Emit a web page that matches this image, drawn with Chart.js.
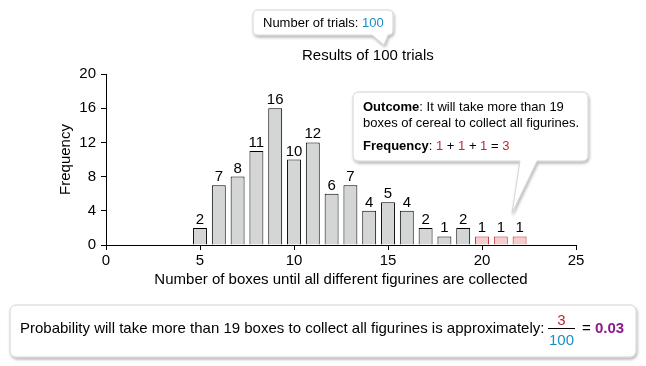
<!DOCTYPE html>
<html>
<head>
<meta charset="utf-8">
<script src="https://cdn.jsdelivr.net/npm/chart.js@4"></script>
<style>
  body { margin: 0; background: #fff; font-family: "Liberation Sans", Arial, sans-serif; }
  #wrap { position: relative; width: 646px; height: 366px; overflow: hidden; }
  #mychart { position: absolute; left: 0; top: 0; }
  svg { position: absolute; left: 0; top: 0; }
  .txt { position: absolute; color: #000; white-space: nowrap; }
  .red { color: #c0282d; }
  .blue { color: #1b8cc4; }
</style>
</head>
<body>
<div id="wrap">
  <canvas id="mychart" width="646" height="366"></canvas>
  <svg width="646" height="366">
    <defs>
      <filter id="shade" x="-10%" y="-10%" width="120%" height="140%">
        <feDropShadow dx="1" dy="2" stdDeviation="1.5" flood-color="#000" flood-opacity="0.3"/>
      </filter>
    </defs>
    <!-- top callout -->
    <path d="M258,10 H388 Q393,10 393,15 V30 Q393,35 388,35 H388 L384,45 L372,35 H258 Q253,35 253,30 V15 Q253,10 258,10 Z"
          fill="#fff" stroke="#d4d4d4" filter="url(#shade)"/>
    <!-- outcome callout -->
    <path d="M359,92 H582 Q588,92 588,98 V155 Q588,161 582,161 H537 L512,213 L520,161 H359 Q353,161 353,155 V98 Q353,92 359,92 Z"
          fill="#fff" stroke="#d4d4d4" filter="url(#shade)"/>
    <!-- probability box -->
    <rect x="10" y="305" width="626" height="52" rx="6" ry="6" fill="#fff" stroke="#d4d4d4" filter="url(#shade)"/>
    <line x1="548" y1="328.5" x2="575" y2="328.5" stroke="#000" stroke-width="1"/>
  </svg>

  <div class="txt" style="left:263px; top:15px; font-size:13px; line-height:16px;">Number of trials: <span class="blue">100</span></div>
  <div class="txt" style="left:302px; top:46px; font-size:15px; line-height:18px;">Results of 100 trials</div>

  <div class="txt" style="left:363px; top:99px; font-size:13px; line-height:16px;"><b>Outcome</b>: It will take more than 19<br>boxes of cereal to collect all figurines.</div>
  <div class="txt" style="left:363px; top:138px; font-size:13px; line-height:16px;"><b>Frequency</b>: <span class="red">1</span> + <span class="red">1</span> + <span class="red">1</span> = <span class="red">3</span></div>

  <div class="txt" style="left:20px; top:319px; font-size:15px; line-height:18px;">Probability will take more than 19 boxes to collect all figurines is approximately:</div>
  <div class="txt red" style="left:548px; width:27px; text-align:center; top:311px; font-size:15px; line-height:18px;">3</div>
  <div class="txt blue" style="left:548px; width:27px; text-align:center; top:331px; font-size:15px; line-height:18px;">100</div>
  <div class="txt" style="left:582px; top:319px; font-size:15px; line-height:18px;">= <b style="color:#8b1a8b;">0.03</b></div>
</div>

<script>
// aantal dozen (x) en hoe vaak het voorkwam
var boxCounts = [5, 6, 7, 8, 9, 10, 11, 12, 13, 14, 15, 16, 17, 18, 19, 20, 21, 22];
var frequencies = [2, 7, 8, 11, 16, 10, 12, 6, 7, 4, 5, 4, 2, 1, 2, 1, 1, 1];
var xTicks = [0, 5, 10, 15, 20, 25];
var yTicks = [0, 4, 8, 12, 16, 20];
var threshold = 19;   // meer dan 19 dozen wordt rood gekleurd

Chart.defaults.font.family = '"Liberation Sans", Arial, sans-serif';
Chart.defaults.font.size = 15;
Chart.defaults.color = '#000';

var points = boxCounts.map(function (x, i) { return { x: x, y: frequencies[i] }; });
var fills = boxCounts.map(function (x) { return x > threshold ? '#f6cdcd' : '#d4d6d6'; });
var borders = boxCounts.map(function (x) { return x > threshold ? '#c0282d' : '#000'; });

// getal boven elke staaf
var barLabels = {
    id: 'barLabels',
    afterDatasetsDraw: function (chart) {
        var ctx = chart.ctx;
        var meta = chart.getDatasetMeta(0);
        ctx.save();
        ctx.font = '15px "Liberation Sans", Arial, sans-serif';
        ctx.fillStyle = '#000';
        ctx.textAlign = 'center';
        ctx.textBaseline = 'alphabetic';
        meta.data.forEach(function (bar, i) {
            ctx.fillText(String(frequencies[i]), bar.x, bar.y - 4);
        });
        ctx.restore();
    }
};

var mychart = new Chart(document.getElementById('mychart'), {
    type: 'bar',
    data: {
        datasets: [{
            data: points,
            backgroundColor: fills,
            borderColor: borders,
            borderWidth: 1,
            barPercentage: 0.74,
            categoryPercentage: 1
        }]
    },
    options: {
        responsive: false,
        animation: false,
        layout: { padding: { left: 57, top: 74, right: 70, bottom: 77 } },
        plugins: { legend: { display: false }, tooltip: { enabled: false } },
        scales: {
            x: {
                type: 'linear',
                min: 0,
                max: 25,
                offset: false,
                afterFit: function (scale) { scale.height = 44; },
                afterBuildTicks: function (scale) {
                    scale.ticks = xTicks.map(function (v) { return { value: v }; });
                },
                grid: { offset: false, drawOnChartArea: false, color: '#000', tickColor: '#000', tickLength: 5 },
                border: { display: true, color: '#000', width: 1 },
                ticks: { padding: 2, maxRotation: 0 },
                title: { display: true, text: 'Number of boxes until all different figurines are collected', padding: { top: 2, bottom: 0 } }
            },
            y: {
                min: 0,
                max: 20,
                afterFit: function (scale) { scale.width = 49; },
                afterBuildTicks: function (scale) {
                    scale.ticks = yTicks.map(function (v) { return { value: v }; });
                },
                grid: { drawOnChartArea: false, color: '#000', tickColor: '#000', tickLength: 5 },
                border: { display: true, color: '#000', width: 1 },
                ticks: { padding: 5 },
                title: { display: true, text: 'Frequency', padding: { top: 0, bottom: 0 } }
            }
        }
    },
    plugins: [barLabels]
});
</script>
</body>
</html>
